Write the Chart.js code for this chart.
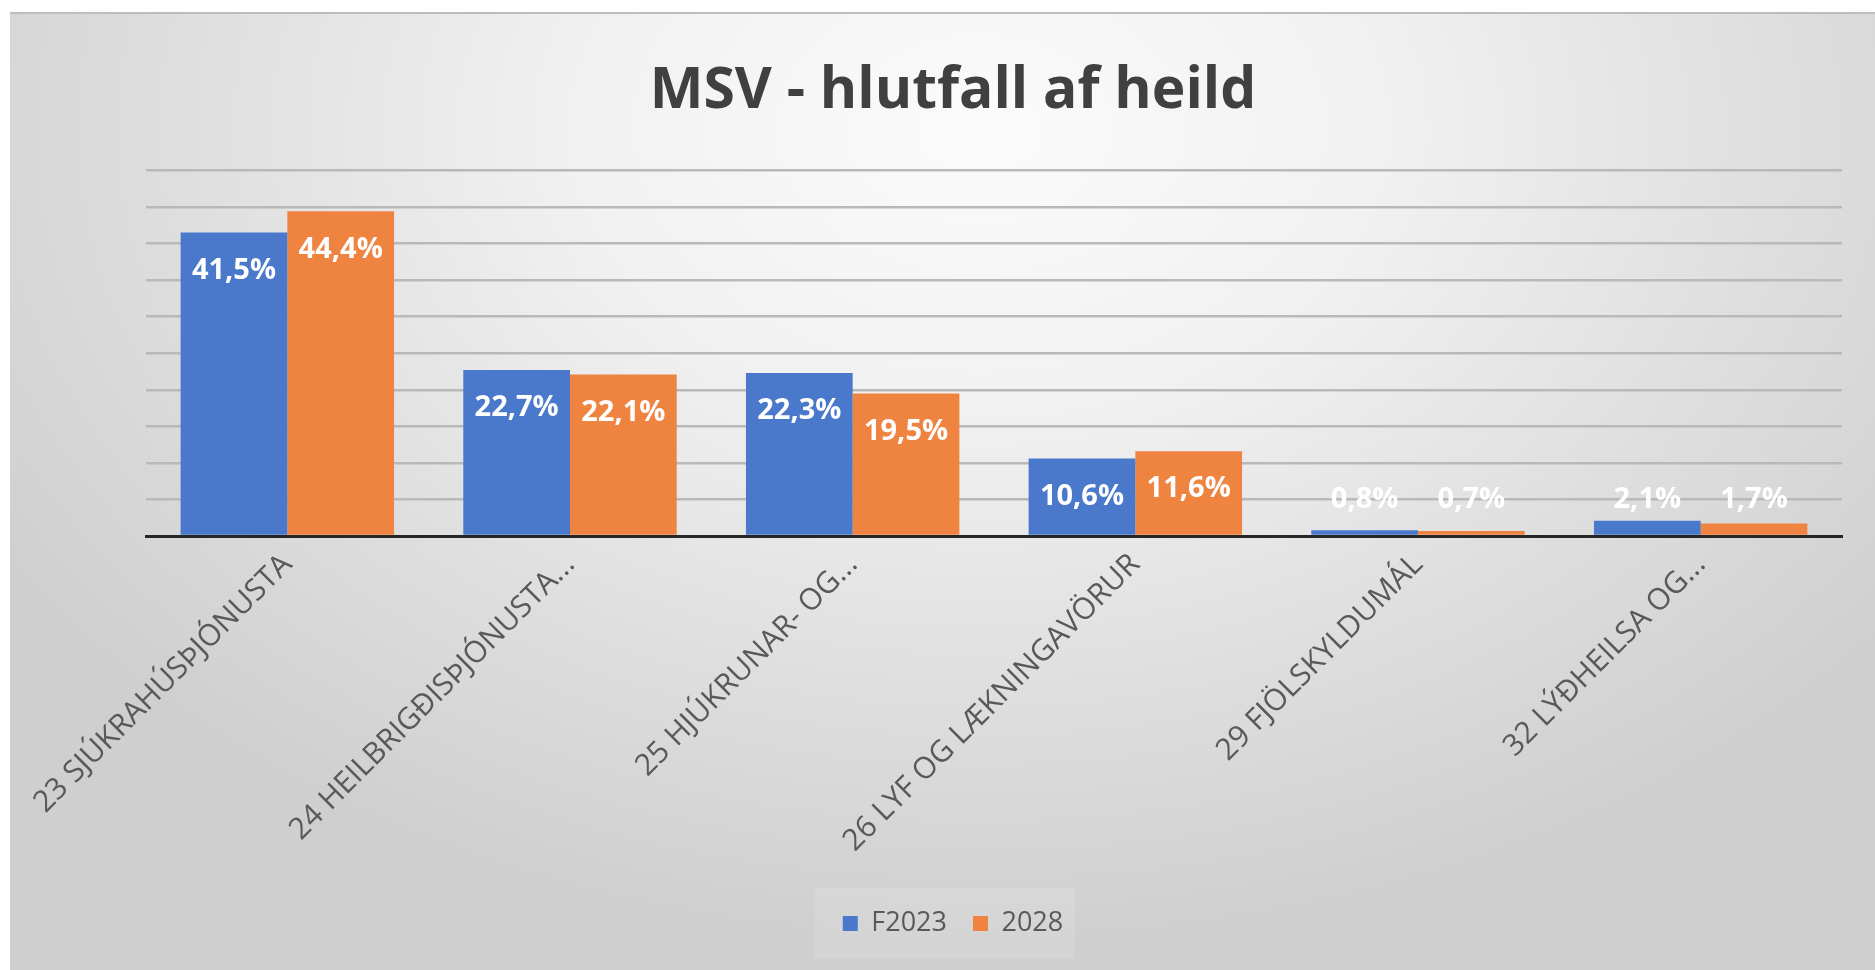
<!DOCTYPE html>
<html>
<head>
<meta charset="utf-8">
<script src="https://cdn.jsdelivr.net/npm/chart.js@4.4.1/dist/chart.umd.min.js"></script>
<style>
  html, body { margin: 0; padding: 0; background: #ffffff; }
  #frame {
    position: absolute; left: 10px; top: 12px; width: 1865px; height: 958px;
    border-top: 2px solid #bdbdbd;
    background: radial-gradient(ellipse 62% 85% at 52% 12%, #fbfbfb 0%, #f1f1f1 35%, #dedede 70%, #cfcfcf 100%);
  }
  #chart { position: absolute; left: 0; top: 0; }
</style>
</head>
<body>
<div id="frame"></div>
<canvas id="chart" width="1875" height="970"></canvas>
<script>
const categories = [
  "23 SJÚKRAHÚSÞJÓNUSTA",
  "24 HEILBRIGÐISÞJÓNUSTA...",
  "25 HJÚKRUNAR- OG...",
  "26 LYF OG LÆKNINGAVÖRUR",
  "29 FJÖLSKYLDUMÁL",
  "32 LÝÐHEILSA OG..."
];
const seriesNames = ["F2023", "2028"];
const f2023 = [41.5, 22.7, 22.3, 10.6, 0.8, 2.1];
const y2028 = [44.4, 22.1, 19.5, 11.6, 0.7, 1.7];
const colors = ["#4a78cb", "#ee8440"];

const fmt = v => v.toFixed(1).replace(".", ",") + "%";

// white value labels, inside the bar end, or just above the axis when the bar is too short
const barLabels = {
  id: "barLabels",
  afterDatasetsDraw(chart) {
    const ctx = chart.ctx;
    ctx.save();
    ctx.font = "bold 29px 'Open Sans'";
    ctx.fillStyle = "#ffffff";
    ctx.textAlign = "center";
    ctx.textBaseline = "middle";
    chart.data.datasets.forEach((ds, i) => {
      chart.getDatasetMeta(i).data.forEach((bar, j) => {
        const y = Math.min(bar.y + 38, bar.base - 35);
        ctx.fillText(fmt(ds.data[j]), bar.x, y);
      });
    });
    ctx.restore();
  }
};

const legendBox = {
  id: "legendBox",
  beforeDraw(chart) {
    const boxes = chart.legend && chart.legend.legendHitBoxes;
    if (!boxes || !boxes.length) return;
    const l = Math.min(...boxes.map(b => b.left)) - 28;
    const r = Math.max(...boxes.map(b => b.left + b.width)) + 12;
    const t = boxes[0].top - 22;
    const h = boxes[0].height + 44;
    const ctx = chart.ctx;
    ctx.save();
    ctx.fillStyle = "rgba(255,255,255,0.12)";
    ctx.fillRect(l, t, r - l, h);
    ctx.restore();
  }
};

new Chart(document.getElementById("chart"), {
  type: "bar",
  data: {
    labels: categories,
    datasets: [
      { label: seriesNames[0], data: f2023, backgroundColor: colors[0] },
      { label: seriesNames[1], data: y2028, backgroundColor: colors[1] }
    ]
  },
  options: {
    responsive: false,
    animation: false,
    categoryPercentage: 0.755,
    barPercentage: 1.0,
    layout: { padding: { left: 64, right: 33, top: 0, bottom: 23 } },
    plugins: {
      title: {
        display: true,
        text: "MSV - hlutfall af heild",
        color: "#404040",
        font: { family: "'Open Sans'", size: 57, weight: "bold" },
        padding: { top: 58, bottom: 44 }
      },
      legend: {
        position: "bottom",
        labels: {
          color: "#595959",
          font: { family: "'Open Sans'", size: 27 },
          boxWidth: 15,
          boxHeight: 15,
          padding: 26
        }
      },
      tooltip: { enabled: false }
    },
    scales: {
      x: {
        grid: { display: false },
        border: { display: true, color: "#262626", width: 3 },
        ticks: {
          color: "#595959",
          font: { family: "'Open Sans'", size: 30 },
          minRotation: 45,
          maxRotation: 45,
          padding: 3
        },
        afterFit(scale) { scale.height = 348; }
      },
      y: {
        min: 0,
        max: 50,
        ticks: { display: false, stepSize: 5 },
        grid: { color: "#b9b9b9", lineWidth: 2.5, drawTicks: false },
        border: { display: false },
        afterFit(scale) { scale.width = 82; }
      }
    }
  },
  plugins: [legendBox, barLabels]
});
</script>
</body>
</html>
